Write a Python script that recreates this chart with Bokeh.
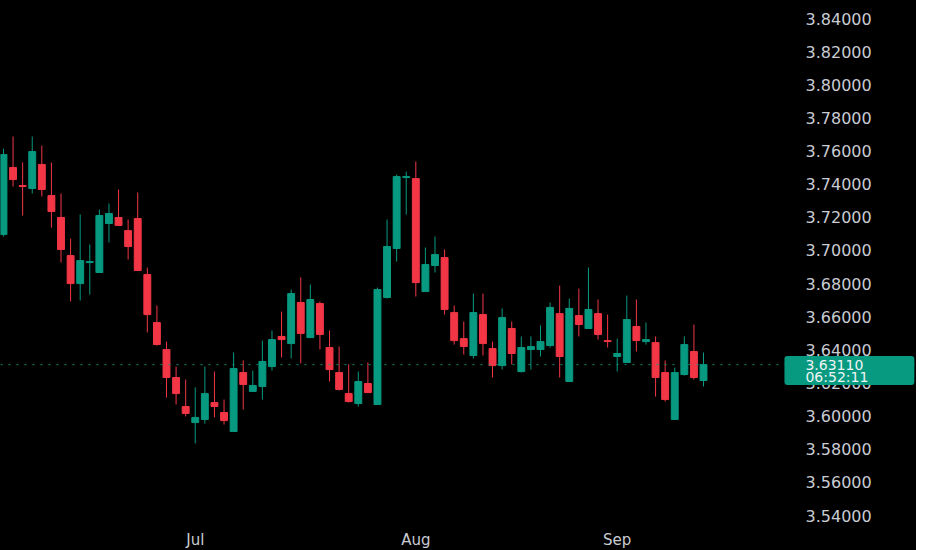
from bokeh.embed import file_html
from bokeh.models import FixedTicker, Label, LinearAxis, PrintfTickFormatter, Range1d, Span
from bokeh.plotting import figure
from bokeh.resources import INLINE

# daily candles (one per weekday, early June to mid September)
opens = [3.7096, 3.7501, 3.7392, 3.7374, 3.7519, 3.7332, 3.7199, 3.6969, 3.6800, 3.6927,
         3.6867, 3.7163, 3.7199, 3.7120, 3.7193, 3.6855, 3.6565, 3.6402, 3.6233, 3.6058,
         3.5961, 3.5980, 3.6082, 3.6022, 3.5907, 3.6263, 3.6149, 3.6179, 3.6299, 3.6481,
         3.6438, 3.6686, 3.6474, 3.6680, 3.6414, 3.6263, 3.6136, 3.6076, 3.6197, 3.6070,
         3.6716, 3.7012, 3.7440, 3.7434, 3.6752, 3.6909, 3.6957, 3.6625, 3.6468, 3.6366,
         3.6613, 3.6408, 3.6305, 3.6529, 3.6269, 3.6402, 3.6402, 3.6426, 3.6619, 3.6209,
         3.6607, 3.6529, 3.6619, 3.6456, 3.6360, 3.6324, 3.6541, 3.6450, 3.6444, 3.6263,
         3.5980, 3.6251, 3.6390, 3.6215]
highs = [3.7615, 3.7688, 3.7531, 3.7688, 3.7633, 3.7531, 3.7344, 3.7072, 3.7217, 3.7036,
         3.7247, 3.7283, 3.7368, 3.7187, 3.7350, 3.6897, 3.6668, 3.6450, 3.6299, 3.6221,
         3.6173, 3.6299, 3.6269, 3.6100, 3.6384, 3.6336, 3.6275, 3.6456, 3.6517, 3.6631,
         3.6764, 3.6837, 3.6794, 3.6692, 3.6517, 3.6420, 3.6312, 3.6269, 3.6324, 3.6776,
         3.7187, 3.7458, 3.7476, 3.7537, 3.7018, 3.7084, 3.7006, 3.6668, 3.6571, 3.6740,
         3.6740, 3.6450, 3.6650, 3.6571, 3.6481, 3.6481, 3.6547, 3.6686, 3.6788, 3.6710,
         3.6770, 3.6897, 3.6704, 3.6613, 3.6468, 3.6728, 3.6704, 3.6565, 3.6481, 3.6336,
         3.6293, 3.6481, 3.6553, 3.6384]
lows = [3.7084, 3.7386, 3.7211, 3.7344, 3.7326, 3.7138, 3.6927, 3.6692, 3.6698, 3.6734,
        3.6865, 3.7048, 3.7149, 3.6945, 3.6877, 3.6505, 3.6426, 3.6112, 3.6070, 3.5998,
        3.5835, 3.5955, 3.5992, 3.5949, 3.5905, 3.6040, 3.6147, 3.6100, 3.6275, 3.6354,
        3.6348, 3.6318, 3.6472, 3.6402, 3.6209, 3.6155, 3.6082, 3.6058, 3.6140, 3.6068,
        3.6710, 3.6933, 3.7217, 3.6722, 3.6750, 3.6867, 3.6613, 3.6432, 3.6372, 3.6348,
        3.6366, 3.6233, 3.6281, 3.6312, 3.6263, 3.6281, 3.6360, 3.6414, 3.6233, 3.6207,
        3.6481, 3.6527, 3.6462, 3.6414, 3.6269, 3.6322, 3.6390, 3.6432, 3.6118, 3.6088,
        3.5978, 3.6245, 3.6221, 3.6179]
closes = [3.7579, 3.7428, 3.7386, 3.7597, 3.7368, 3.7235, 3.7006, 3.6800, 3.6939, 3.6933,
          3.7211, 3.7223, 3.7151, 3.7024, 3.6879, 3.6613, 3.6432, 3.6233, 3.6136, 3.6016,
          3.5992, 3.6136, 3.6058, 3.5973, 3.6287, 3.6191, 3.6185, 3.6330, 3.6462, 3.6462,
          3.6740, 3.6499, 3.6704, 3.6493, 3.6281, 3.6161, 3.6088, 3.6209, 3.6142, 3.6764,
          3.7024, 3.7446, 3.7446, 3.6806, 3.6915, 3.6975, 3.6644, 3.6456, 3.6420, 3.6625,
          3.6438, 3.6305, 3.6595, 3.6378, 3.6414, 3.6420, 3.6450, 3.6656, 3.6360, 3.6650,
          3.6553, 3.6644, 3.6493, 3.6450, 3.6378, 3.6583, 3.6456, 3.6462, 3.6233, 3.6100,
          3.6263, 3.6432, 3.6233, 3.6311]

month_ticks = [20, 43, 64]
month_labels = ["Jul", "Aug", "Sep"]
price_ticks = [3.54, 3.56, 3.58, 3.60, 3.62, 3.64, 3.66, 3.68, 3.70, 3.72, 3.74, 3.76, 3.78, 3.80, 3.82, 3.84]
last_price = 3.6311
countdown = "06:52:11"

UP = "#089981"
DOWN = "#f23645"
TEXT = "#c9ccd3"

# the frame spans the whole width; the price scale sits over its right part
p = figure(
    frame_width=916, frame_height=518,
    x_range=Range1d(-0.31, 95.21), y_range=Range1d(3.5382, 3.8509),
    output_backend="svg", toolbar_location=None,
    background_fill_color="black", border_fill_color="black",
    outline_line_color=None, min_border_left=0, min_border_top=0,
    min_border_right=0, min_border_bottom=22, y_axis_location=None,
)
p.styles = {"background-color": "black"}
p.grid.visible = False

idx = list(range(len(opens)))
colors = [UP if c >= o else DOWN for o, c in zip(opens, closes)]
tops = [max(o, c) for o, c in zip(opens, closes)]
bottoms = [min(o, c) for o, c in zip(opens, closes)]

p.segment(idx, highs, idx, lows, color=colors, line_width=1)
p.vbar(x=idx, width=0.72, top=tops, bottom=bottoms, fill_color=colors, line_color=colors, line_width=1)

p.add_layout(Span(location=last_price, dimension="width", line_color=UP,
                  line_dash="2 6", line_width=1, line_alpha=0.9))

yaxis = LinearAxis(ticker=FixedTicker(ticks=price_ticks), formatter=PrintfTickFormatter(format="%.5f"))
yaxis.axis_line_color = None
yaxis.major_tick_line_color = None
yaxis.minor_tick_line_color = None
yaxis.major_tick_out = 0
yaxis.minor_tick_out = 0
yaxis.major_label_standoff = -111
yaxis.major_label_text_color = TEXT
yaxis.major_label_text_font = "DejaVu Sans"
yaxis.major_label_text_font_size = "16px"
p.add_layout(yaxis, "right")

xaxis = p.xaxis[0]
xaxis.ticker = FixedTicker(ticks=month_ticks)
xaxis.major_label_overrides = dict(zip(month_ticks, month_labels))
xaxis.axis_line_color = None
xaxis.major_tick_line_color = None
xaxis.minor_tick_line_color = None
xaxis.major_tick_out = 0
xaxis.minor_tick_out = 0
xaxis.major_label_standoff = 12
xaxis.major_label_text_color = TEXT
xaxis.major_label_text_font = "DejaVu Sans"
xaxis.major_label_text_font_size = "15px"

tag = Label(x=81.44, y=last_price, y_offset=-6, text=f"{last_price:.5f}\n{countdown}",
            text_align="left", text_baseline="middle", text_color="#eef6f4",
            text_font="DejaVu Sans", text_font_size="14px", text_line_height=0.75,
            background_fill_color=UP, border_radius=3,
            padding=dict(left=21, right=46, top=1, bottom=0))
p.add_layout(tag)

open("out.html", "w").write(file_html(p, INLINE))
